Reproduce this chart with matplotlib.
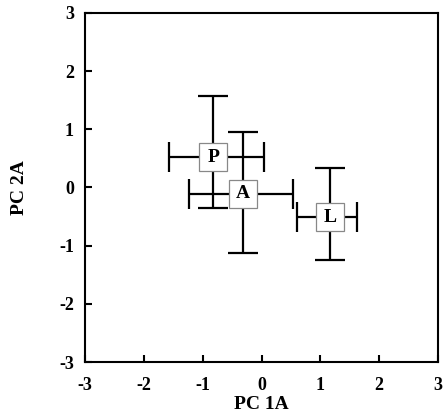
import matplotlib
matplotlib.use("Agg")
import matplotlib.pyplot as plt

labels = ["P", "A", "L"]
pc1 = [-0.82, -0.31, 1.16]
pc2 = [0.52, -0.11, -0.51]
pc1_low = [-1.57, -1.23, 0.60]
pc1_high = [0.04, 0.54, 1.62]
pc2_low = [-0.35, -1.13, -1.25]
pc2_high = [1.57, 0.95, 0.34]
ticks = [-3, -2, -1, 0, 1, 2, 3]

plt.rcParams['font.family'] = ['Liberation Serif', 'DejaVu Serif']
fig = plt.figure(figsize=(4.46, 4.15), dpi=100)
ax = fig.add_axes([0.1906, 0.1277, 0.7915, 0.841])

for i in range(len(labels)):
    xerr = [[pc1[i] - pc1_low[i]], [pc1_high[i] - pc1[i]]]
    yerr = [[pc2[i] - pc2_low[i]], [pc2_high[i] - pc2[i]]]
    ax.errorbar([pc1[i]], [pc2[i]], xerr=xerr, yerr=yerr, fmt='none',
                ecolor='black', elinewidth=1.6, capsize=10.5, capthick=1.6, zorder=2)
    ax.plot([pc1[i]], [pc2[i]], marker='s', markersize=20.5, markerfacecolor='white',
            markeredgecolor='#888888', markeredgewidth=0.9, linestyle='none', zorder=3)
    ax.text(pc1[i], pc2[i], labels[i], ha='center', va='center', fontsize=14,
            fontweight='bold', zorder=4)

ax.set_xlim(-3, 3)
ax.set_ylim(-3, 3)
ax.set_xticks(ticks)
ax.set_yticks(ticks)
ax.set_xticklabels([str(t) for t in ticks], fontsize=13, fontweight='bold')
ax.set_yticklabels([str(t) for t in ticks], fontsize=13, fontweight='bold')
ax.tick_params(direction='in', length=5, width=1.5, top=False, right=False)
ax.tick_params(axis='x', pad=11)
ax.tick_params(axis='y', pad=8)
for s in ax.spines.values():
    s.set_linewidth(1.5)
ax.set_xlabel("PC 1A", fontsize=14, fontweight='bold', labelpad=1)
ax.set_ylabel("PC 2A", fontsize=14, fontweight='bold', labelpad=22)

fig.savefig("out.png", dpi=100)
